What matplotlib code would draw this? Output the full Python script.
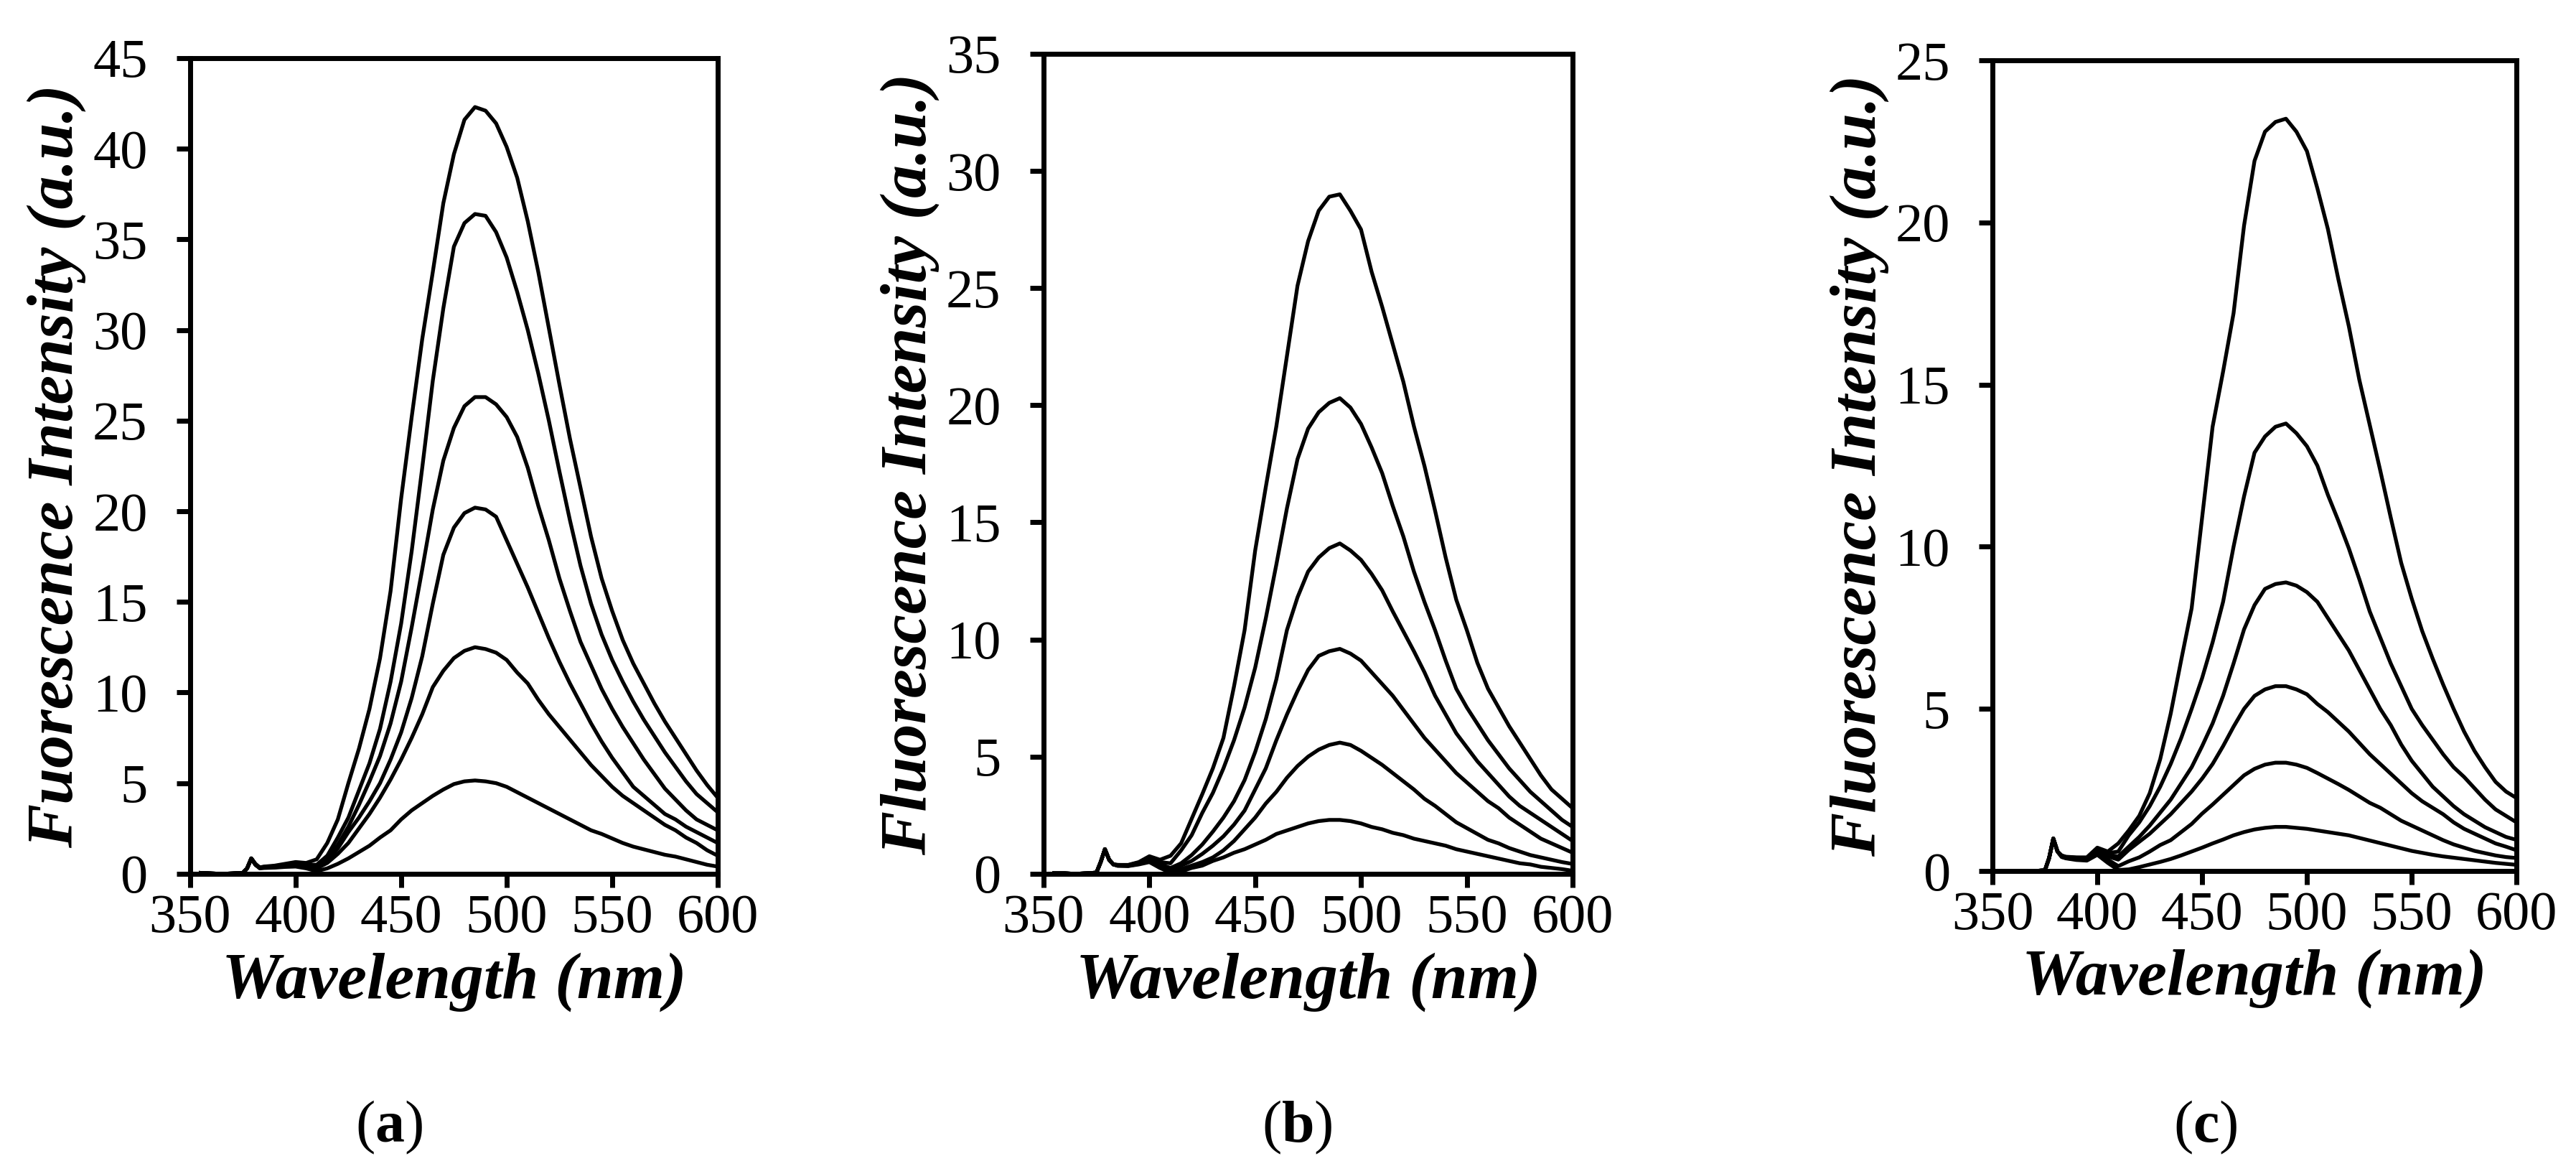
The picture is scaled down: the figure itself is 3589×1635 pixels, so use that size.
import matplotlib
matplotlib.use("Agg")
import matplotlib.pyplot as plt

# Times-like serif everywhere, bold letter inside the panel tags
plt.rcParams["font.family"] = "Liberation Serif"
plt.rcParams["mathtext.fontset"] = "custom"
plt.rcParams["mathtext.rm"] = "Liberation Serif"
plt.rcParams["mathtext.bf"] = "Liberation Serif:bold"

# wavelength grid (nm), shared by all spectra
wl = [355, 360, 365, 370, 375, 377, 379, 381, 383, 385, 390, 395, 400, 405,
      410, 415, 420, 425, 430, 435, 440, 445, 450, 455, 460, 465, 470, 475,
      480, 485, 490, 495, 500, 505, 510, 515, 520, 525, 530, 535, 540, 545,
      550, 555, 560, 565, 570, 575, 580, 585, 590, 595, 600]

# panel (a) spectra, highest to lowest
a1 = [0.05, 0.02, 0.0, 0.02, 0.05, 0.3, 0.85, 0.55, 0.35, 0.4, 0.45, 0.55, 0.65, 0.6,
      0.8, 1.7, 3.0, 5.0, 6.9, 9.1, 11.9, 15.6, 20.7, 25.2, 29.5, 33.2, 37.0, 39.7,
      41.6, 42.3, 42.1, 41.4, 40.1, 38.4, 36.0, 33.2, 30.1, 27.0, 24.0, 21.3, 18.6, 16.3,
      14.5, 12.9, 11.6, 10.5, 9.4, 8.4, 7.5, 6.6, 5.7, 4.9, 4.2]
a2 = [0.05, 0.02, 0.0, 0.02, 0.05, 0.3, 0.85, 0.5, 0.35, 0.38, 0.42, 0.5, 0.6, 0.5,
      0.5, 1.0, 2.0, 3.1, 4.6, 6.1, 8.0, 10.6, 13.8, 17.8, 22.4, 27.2, 31.2, 34.6,
      35.9, 36.4, 36.3, 35.4, 34.0, 32.1, 30.0, 27.6, 25.0, 22.2, 19.5, 17.0, 14.9, 13.2,
      11.8, 10.6, 9.5, 8.5, 7.6, 6.7, 5.9, 5.1, 4.4, 3.9, 3.4]
a3 = [0.05, 0.02, 0.0, 0.02, 0.05, 0.3, 0.85, 0.5, 0.33, 0.36, 0.4, 0.48, 0.55, 0.45,
      0.4, 0.9, 1.6, 2.6, 3.8, 5.1, 6.5, 8.3, 10.6, 13.6, 16.8, 20.1, 22.8, 24.6,
      25.8, 26.3, 26.3, 25.9, 25.2, 24.1, 22.4, 20.3, 18.4, 16.3, 14.5, 12.8, 11.5, 10.2,
      9.1, 8.1, 7.2, 6.3, 5.5, 4.7, 4.1, 3.5, 3.0, 2.7, 2.4]
a4 = [0.05, 0.02, 0.0, 0.02, 0.05, 0.3, 0.85, 0.5, 0.33, 0.35, 0.38, 0.45, 0.5, 0.4,
      0.3, 0.7, 1.4, 2.3, 3.1, 4.0, 5.0, 6.3, 7.8, 9.7, 12.0, 14.9, 17.6, 19.1,
      19.9, 20.2, 20.1, 19.7, 18.4, 17.1, 15.8, 14.4, 13.0, 11.7, 10.5, 9.4, 8.3, 7.3,
      6.4, 5.6, 4.8, 4.3, 3.8, 3.3, 3.0, 2.6, 2.3, 2.0, 1.7]
a5 = [0.05, 0.02, 0.0, 0.02, 0.05, 0.3, 0.85, 0.5, 0.32, 0.34, 0.36, 0.42, 0.45, 0.35,
      0.3, 0.6, 1.1, 1.7, 2.5, 3.3, 4.2, 5.2, 6.3, 7.5, 8.8, 10.3, 11.2, 11.9,
      12.3, 12.5, 12.4, 12.2, 11.8, 11.1, 10.5, 9.6, 8.8, 8.1, 7.4, 6.7, 6.0, 5.4,
      4.8, 4.3, 3.9, 3.5, 3.1, 2.7, 2.4, 2.0, 1.7, 1.3, 1.0]
a6 = [0.05, 0.02, 0.0, 0.02, 0.05, 0.3, 0.85, 0.5, 0.3, 0.32, 0.34, 0.38, 0.4, 0.3,
      0.15, 0.3, 0.55, 0.85, 1.2, 1.55, 2.0, 2.4, 3.0, 3.5, 3.9, 4.3, 4.65, 4.95,
      5.1, 5.15, 5.1, 5.0, 4.8, 4.5, 4.2, 3.9, 3.6, 3.3, 3.0, 2.7, 2.4, 2.2,
      1.95, 1.7, 1.5, 1.35, 1.2, 1.05, 0.95, 0.8, 0.65, 0.5, 0.4]

# panel (b) spectra
b1 = [0.02, 0.02, 0.0, 0.02, 0.05, 0.5, 1.05, 0.6, 0.4, 0.38, 0.38, 0.5, 0.75, 0.6,
      0.77, 1.3, 2.35, 3.4, 4.5, 5.8, 8.0, 10.4, 13.8, 16.5, 19.1, 22.1, 25.1, 27.0,
      28.3, 28.9, 29.0, 28.3, 27.5, 25.7, 24.2, 22.6, 21.0, 19.1, 17.4, 15.5, 13.5, 11.7,
      10.4, 9.0, 7.9, 7.1, 6.3, 5.6, 4.9, 4.2, 3.6, 3.2, 2.8]
b2 = [0.02, 0.02, 0.0, 0.02, 0.05, 0.5, 1.05, 0.6, 0.4, 0.38, 0.37, 0.48, 0.7, 0.5,
      0.45, 1.0, 1.65, 2.6, 3.45, 4.5, 5.7, 7.1, 8.8, 10.9, 13.2, 15.6, 17.7, 19.0,
      19.7, 20.1, 20.3, 19.9, 19.2, 18.2, 17.1, 15.7, 14.4, 12.9, 11.6, 10.4, 9.1, 7.9,
      7.1, 6.4, 5.7, 5.1, 4.5, 4.0, 3.5, 3.1, 2.7, 2.3, 2.0]
b3 = [0.02, 0.02, 0.0, 0.02, 0.05, 0.5, 1.05, 0.6, 0.4, 0.37, 0.36, 0.46, 0.65, 0.4,
      0.25, 0.45, 0.8, 1.25, 1.8, 2.4, 3.1, 4.0, 5.2, 6.6, 8.3, 10.4, 11.8, 12.9,
      13.5, 13.9, 14.1, 13.8, 13.4, 12.8, 12.1, 11.2, 10.35, 9.5, 8.6, 7.6, 6.8, 6.0,
      5.4, 4.8, 4.3, 3.8, 3.3, 2.9, 2.6, 2.3, 2.0, 1.7, 1.4]
b4 = [0.02, 0.02, 0.0, 0.02, 0.05, 0.5, 1.05, 0.6, 0.4, 0.36, 0.35, 0.45, 0.6, 0.35,
      0.2, 0.35, 0.55, 0.85, 1.2, 1.6, 2.1, 2.7, 3.6, 4.5, 5.7, 6.8, 7.8, 8.7,
      9.3, 9.5, 9.6, 9.4, 9.1, 8.6, 8.1, 7.6, 7.0, 6.4, 5.8, 5.3, 4.8, 4.3,
      3.9, 3.5, 3.1, 2.8, 2.4, 2.1, 1.8, 1.5, 1.3, 1.1, 0.9]
b5 = [0.02, 0.02, 0.0, 0.02, 0.05, 0.5, 1.05, 0.6, 0.4, 0.35, 0.34, 0.42, 0.55, 0.3,
      0.1, 0.2, 0.35, 0.5, 0.7, 1.0, 1.4, 1.9, 2.4, 3.0, 3.5, 4.1, 4.6, 5.0,
      5.3, 5.5, 5.6, 5.5, 5.25, 4.95, 4.65, 4.3, 3.95, 3.6, 3.2, 2.9, 2.55, 2.2,
      1.95, 1.7, 1.45, 1.3, 1.1, 0.95, 0.8, 0.7, 0.6, 0.5, 0.42]
b6 = [0.02, 0.02, 0.0, 0.02, 0.05, 0.5, 1.05, 0.6, 0.4, 0.34, 0.33, 0.4, 0.5, 0.25,
      0.05, 0.1, 0.25, 0.35, 0.55, 0.7, 0.9, 1.05, 1.25, 1.45, 1.7, 1.85, 2.0, 2.15,
      2.25, 2.3, 2.3, 2.25, 2.15, 2.0, 1.9, 1.75, 1.65, 1.5, 1.4, 1.3, 1.2, 1.05,
      0.95, 0.85, 0.75, 0.65, 0.55, 0.45, 0.4, 0.3, 0.25, 0.2, 0.13]

# panel (c) spectra
c1 = [0.0, 0.0, 0.0, 0.0, 0.02, 0.4, 1.0, 0.6, 0.48, 0.44, 0.42, 0.42, 0.72, 0.6,
      0.85, 1.25, 1.7, 2.4, 3.45, 4.85, 6.5, 8.1, 10.9, 13.7, 15.4, 17.2, 19.9, 21.9,
      22.8, 23.1, 23.2, 22.8, 22.2, 21.05, 19.8, 18.25, 16.8, 15.15, 13.75, 12.35, 10.9, 9.5,
      8.4, 7.4, 6.55, 5.75, 5.0, 4.3, 3.7, 3.2, 2.75, 2.45, 2.25]
c2 = [0.0, 0.0, 0.0, 0.0, 0.02, 0.4, 1.0, 0.6, 0.47, 0.43, 0.41, 0.4, 0.68, 0.55,
      0.6, 1.1, 1.5, 2.0, 2.6, 3.3, 4.1, 5.0, 5.95, 7.05, 8.3, 10.0, 11.55, 12.9,
      13.4, 13.7, 13.8, 13.5, 13.1, 12.5, 11.6, 10.8, 9.95, 9.0, 8.0, 7.2, 6.4, 5.7,
      5.0, 4.5, 4.05, 3.6, 3.2, 2.9, 2.55, 2.2, 1.9, 1.7, 1.5]
c3 = [0.0, 0.0, 0.0, 0.0, 0.02, 0.4, 1.0, 0.6, 0.46, 0.42, 0.4, 0.38, 0.64, 0.5,
      0.45, 0.75, 1.05, 1.4, 1.8, 2.2, 2.7, 3.2, 3.85, 4.55, 5.4, 6.4, 7.45, 8.2,
      8.7, 8.85, 8.9, 8.8, 8.6, 8.3, 7.8, 7.3, 6.8, 6.2, 5.6, 5.0, 4.5, 3.9,
      3.4, 3.0, 2.6, 2.3, 2.0, 1.75, 1.55, 1.35, 1.2, 1.05, 0.96]
c4 = [0.0, 0.0, 0.0, 0.0, 0.02, 0.4, 1.0, 0.6, 0.45, 0.41, 0.38, 0.36, 0.6, 0.45,
      0.35, 0.65, 0.9, 1.15, 1.45, 1.75, 2.1, 2.45, 2.85, 3.3, 3.85, 4.45, 5.0, 5.4,
      5.6, 5.7, 5.7, 5.6, 5.45, 5.15, 4.9, 4.6, 4.3, 3.95, 3.6, 3.3, 3.0, 2.7,
      2.4, 2.15, 1.95, 1.75, 1.5, 1.3, 1.15, 1.0, 0.85, 0.75, 0.64]
c5 = [0.0, 0.0, 0.0, 0.0, 0.02, 0.4, 1.0, 0.6, 0.44, 0.4, 0.36, 0.34, 0.55, 0.35,
      0.15, 0.3, 0.42, 0.6, 0.8, 0.95, 1.2, 1.45, 1.77, 2.05, 2.35, 2.65, 2.95, 3.15,
      3.28, 3.34, 3.34, 3.28, 3.18, 3.02, 2.85, 2.68, 2.5, 2.3, 2.1, 1.95, 1.75, 1.55,
      1.4, 1.25, 1.1, 0.95, 0.82, 0.72, 0.62, 0.55, 0.48, 0.43, 0.4]
c6 = [0.0, 0.0, 0.0, 0.0, 0.02, 0.4, 1.0, 0.6, 0.43, 0.39, 0.34, 0.32, 0.5, 0.25,
      0.03, 0.05, 0.12, 0.2, 0.28, 0.37, 0.48, 0.6, 0.72, 0.85, 0.97, 1.1, 1.2, 1.28,
      1.33, 1.36, 1.36, 1.33, 1.3, 1.25, 1.2, 1.15, 1.1, 1.02, 0.94, 0.86, 0.78, 0.7,
      0.62, 0.56, 0.5, 0.45, 0.41, 0.37, 0.33, 0.29, 0.25, 0.22, 0.19]

x_ticks = [350, 400, 450, 500, 550, 600]
y_tops = [45, 35, 25]
y_titles = ["Fuorescence Intensity (a.u.)",
            "Fluorescence Intensity (a.u.)",
            "Fluorescence Intensity (a.u.)"]
tags = ["a", "b", "c"]

series = [[a1, a2, a3, a4, a5, a6],
          [b1, b2, b3, b4, b5, b6],
          [c1, c2, c3, c4, c5, c6]]

fig = plt.figure(figsize=(35.89, 16.35), dpi=100)

boxes = [[0.0738, 0.2557, 0.2048, 0.6948],
         [0.4051, 0.2557, 0.2054, 0.6985],
         [0.7735, 0.2581, 0.2034, 0.6905]]
tag_x = [0.1510, 0.5035, 0.8562]

for i in range(3):
    ax = fig.add_axes(boxes[i])
    for s in series[i]:
        ax.plot(wl, s, color="black", lw=3.8, solid_joinstyle="round")

    ax.set_xlim(350, 600)
    ax.set_ylim(0, y_tops[i])
    ax.set_xticks(x_ticks)
    ax.set_yticks(range(0, y_tops[i] + 1, 5))

    for sp in ax.spines.values():
        sp.set_linewidth(5)
    ax.tick_params(direction="out", length=13.7, width=5, labelsize=55)
    ax.tick_params(axis="x", pad=6.5)
    ax.tick_params(axis="y", pad=29)

    ax.set_xlabel("Wavelength (nm)", fontsize=66, fontweight="bold", fontstyle="italic")
    ax.set_ylabel(y_titles[i], fontsize=66, fontweight="bold", fontstyle="italic")
    ax.xaxis.set_label_coords(0.5, -0.096)
    ax.yaxis.set_label_coords(-0.197, 0.5)

    # (a) / (b) / (c) under each panel
    fig.text(tag_x[i], 0.0275, r"$(\mathbf{" + tags[i] + r"})$",
             ha="center", va="baseline", fontsize=59)

fig.savefig("out.png", dpi=100)
